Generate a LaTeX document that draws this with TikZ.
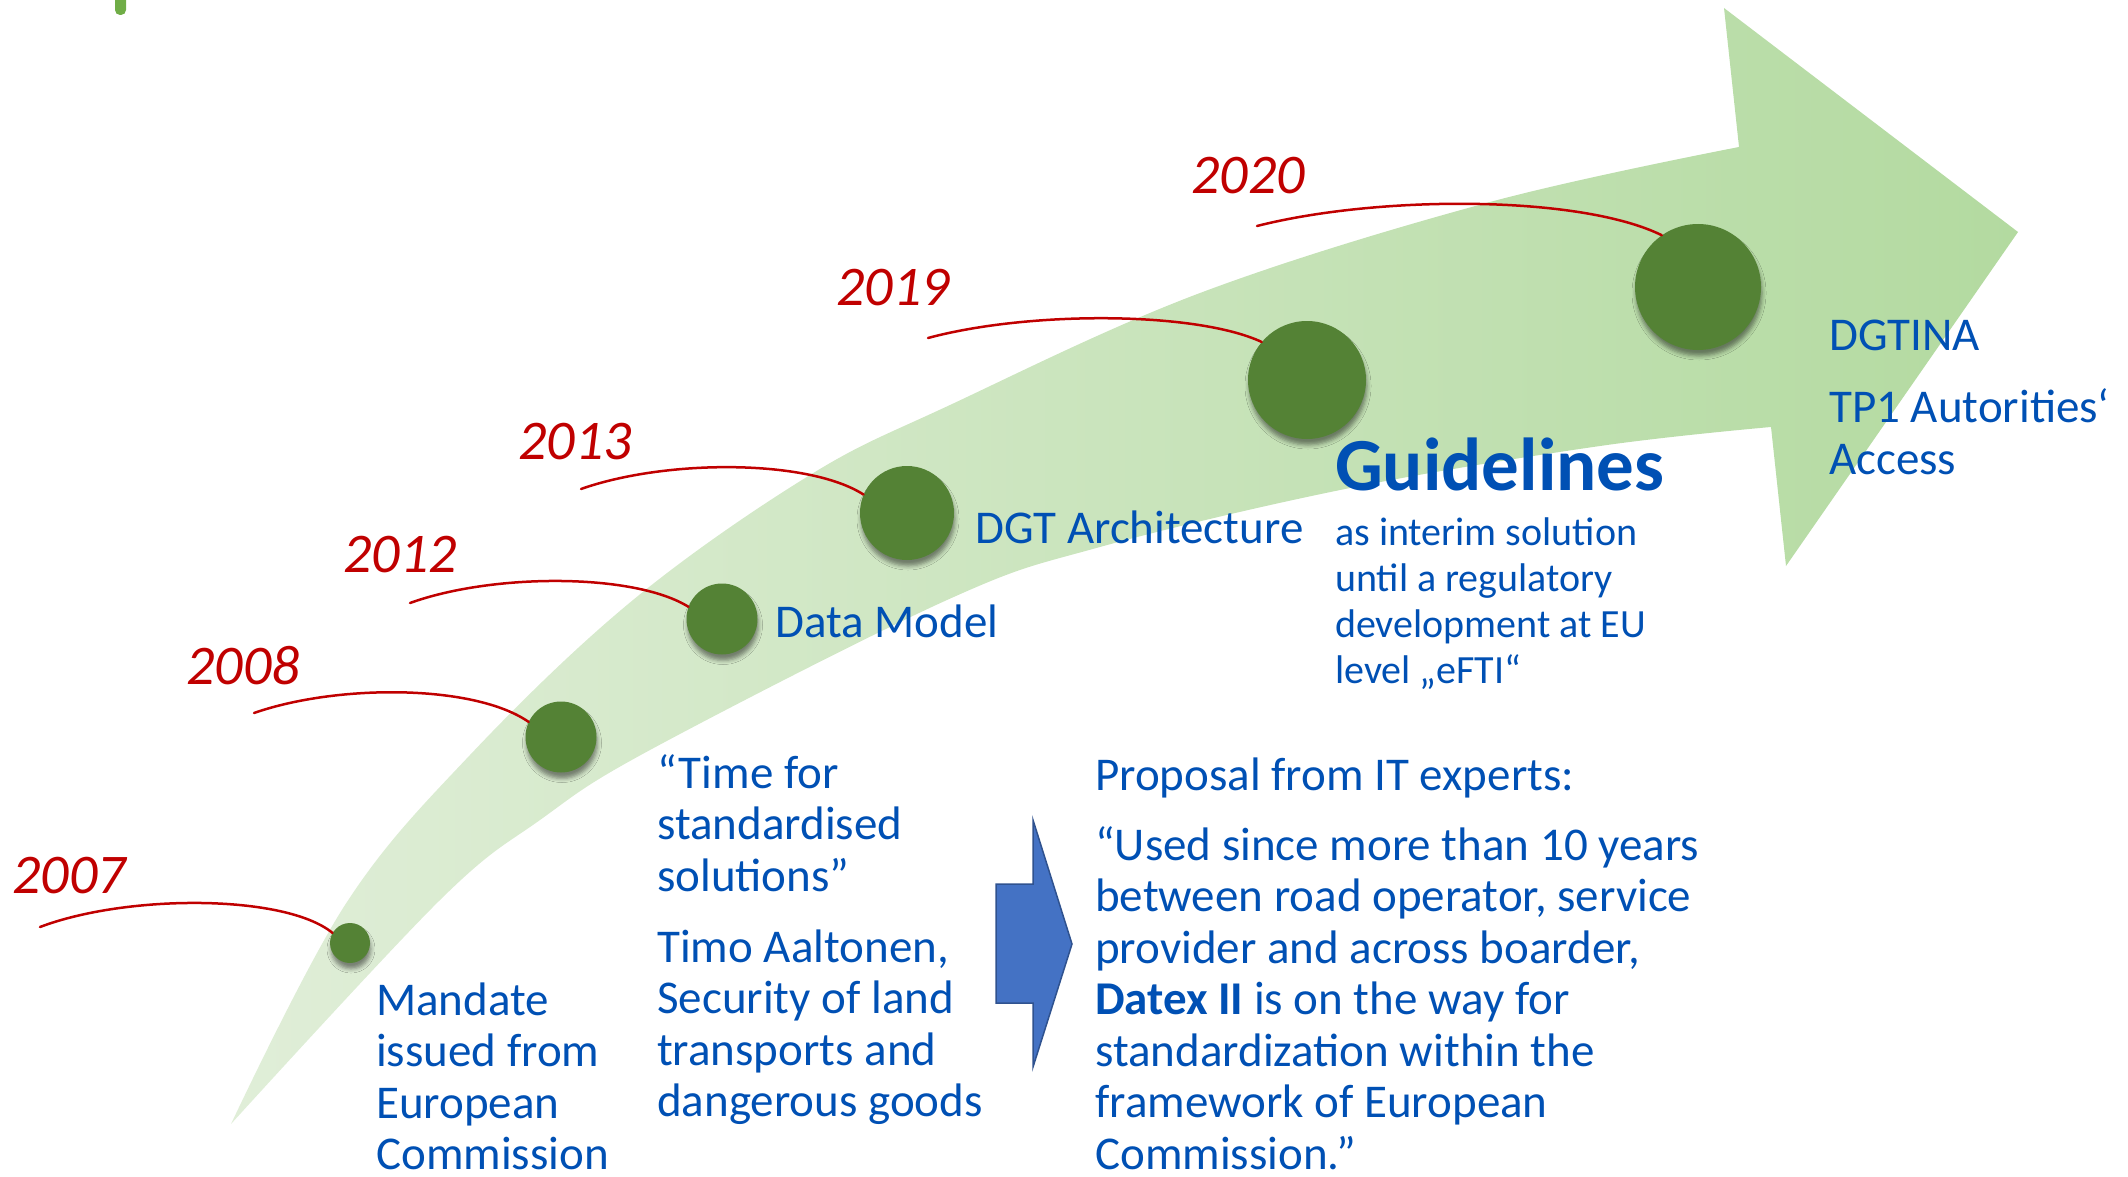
\documentclass[tikz,border=0pt]{standalone}
\usepackage{fontspec}
\setmainfont{Carlito}
\usetikzlibrary{shadows.blur}
\definecolor{txtblue}{HTML}{0050B4}
\definecolor{dotgreen}{HTML}{548235}
\definecolor{yearred}{HTML}{C00000}
\definecolor{bandlight}{HTML}{E0EED8}
\definecolor{banddark}{HTML}{B3DAA0}
\definecolor{arrowblue}{HTML}{4472C4}
\definecolor{arrowedge}{HTML}{2F528F}
\definecolor{barcol}{HTML}{70AD47}
\tikzset{
  dot/.style={circle, inner sep=0pt, fill=dotgreen,
    blur shadow={shadow xshift=1pt, shadow yshift=-6pt, shadow blur radius=4pt, shadow opacity=45}},
  year/.style={text=yearred, inner sep=0pt, font=\fontsize{56}{60}\selectfont\itshape},
  yearline/.style={yearred, line width=2.5pt, line cap=round},
  txt/.style={text=txtblue, anchor=base west, inner sep=0pt, align=left,
    font=\fontsize{47}{51.5}\selectfont},
  smalltxt/.style={txt, font=\fontsize{40}{46}\selectfont},
  bigtxt/.style={txt, font=\fontsize{75}{80}\selectfont\bfseries},
}
\begin{document}
\begin{tikzpicture}[x=1pt,y=-1pt]
  \useasboundingbox (0,0) rectangle (2128,1177);
%%
  % Bar: top left
  \fill[barcol, rounded corners=5pt] (115,-10) rectangle (126,15);
  % Band: timeline arrow
  \shade[left color=bandlight, right color=banddark]
    plot[smooth, tension=0.6] coordinates {(231,1124) (345,905) (470,755) (633,600) (810,475) (950,405) (1200,293) (1490,202) (1739,147)}
    -- (1724,8) -- (2018,232) -- (1786,566) -- (1771,427)
    -- plot[smooth, tension=0.6] coordinates {(1771,427) (1600,446) (1350,488) (1100,547) (947,600) (650,750) (540,820) (440,900) (231,1124)}
    -- cycle;
  % Node: dots
  \node[dot, minimum size=40pt] (d2007) at (350,943) {};
  \node[dot, minimum size=71pt] (d2008) at (561,737) {};
  \node[dot, minimum size=71pt] (d2012) at (722,619) {};
  \node[dot, minimum size=94pt] (d2013) at (907,513) {};
  \node[dot, minimum size=118pt] (d2019) at (1307,380) {};
  \node[dot, minimum size=126pt] (d2020) at (1698,287) {};
  % Node: years
  \node[year] (y2007) at (69,876) {2007};
  \node[year] (y2008) at (243,666) {2008};
  \node[year] (y2012) at (400,555) {2012};
  \node[year] (y2013) at (575,442) {2013};
  \node[year] (y2019) at (893,288) {2019};
  \node[year] (y2020) at (1248,176) {2020};
  \coordinate (c2007) at (40,927);
  \coordinate (c2008) at (254,713);
  \coordinate (c2012) at (410,603);
  \coordinate (c2013) at (581,489);
  \coordinate (c2019) at (928,338);
  \coordinate (c2020) at (1257,226);
  % Edge: 2007 -> dot
  \draw[yearline] (c2007) .. controls (127,894) and (285,894) .. (d2007.150);
  % Edge: 2008 -> dot
  \draw[yearline] (c2008) .. controls (337,684) and (474,684) .. (d2008.155);
  % Edge: 2012 -> dot
  \draw[yearline] (c2012) .. controls (493,573) and (634,573) .. (d2012.160);
  % Edge: 2013 -> dot
  \draw[yearline] (c2013) .. controls (666,459) and (808,459) .. (d2013.157);
  % Edge: 2019 -> dot
  \draw[yearline] (c2019) .. controls (1028,311) and (1195,311) .. (d2019.140);
  % Edge: 2020 -> dot
  \draw[yearline] (c2020) .. controls (1379,195) and (1580,195) .. (d2020.125);
  % Node: texts (multi-line nodes sit on their last baseline)
  \node[txt] (mandate) at (376,1169.5) {Mandate\\issued from\\European\\Commission};
  \node[txt] (datamodel) at (775,637) {Data Model};
  \node[txt] (dgtarch) at (975,543) {DGT Architecture};
  \node[bigtxt] (guide) at (1335,490) {Guidelines};
  \node[smalltxt] (interim) at (1335,683) {as interim solution\\until a regulatory\\development at EU\\level „eFTI“};
  \node[txt] (dgtina) at (1829,474) {DGTINA\\[21pt]TP1 Autorities‘\\Access};
  \node[txt] (quote) at (657,1116.5) {“Time for\\standardised\\solutions”\\[19.5pt]Timo Aaltonen,\\Security of land\\transports and\\dangerous goods};
  % Arrow: blue
  \filldraw[fill=arrowblue, draw=arrowedge, line width=1.5pt, line join=miter]
    (996,884) -- (1033,884) -- (1033,820) -- (1072,944) -- (1033,1067) -- (1033,1003) -- (996,1003) -- cycle;
  \node[txt] (proposal) at (1095,1169) {Proposal from IT experts:\\[18.5pt]“Used since more than 10 years\\between road operator, service\\provider and across boarder,\\\textbf{Datex II} is on the way for\\standardization within the\\framework of European\\Commission.”};
%
\end{tikzpicture}
\end{document}
